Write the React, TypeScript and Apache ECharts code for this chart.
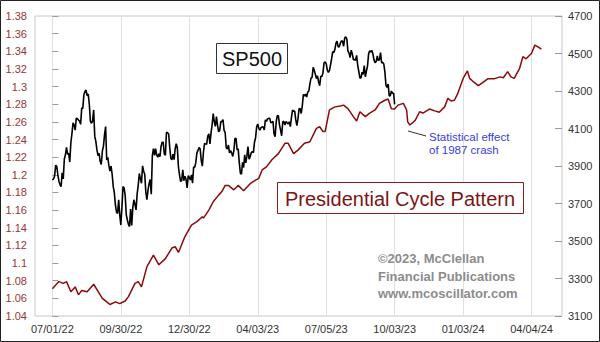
import { useEffect, useRef } from "react";
import * as echarts from "echarts";

// Trading-day index (0 = 07/01/22) of each x-axis label
const tickDays = [0, 63, 126, 189, 252, 315, 378, 441];
const tickLabels = ["07/01/22", "09/30/22", "12/30/22", "04/03/23", "07/05/23", "10/03/23", "01/03/24", "04/04/24"];

// SP500 daily closes, one per trading day starting 07/01/22 (right axis)
const spClose = [
  // Jul 2022
  3825, 3831, 3845, 3903, 3899, 3854, 3819, 3801, 3790, 3863, 3831, 3937, 3960, 3999, 3962, 3967, 3921, 4024, 4073, 4130,
  // Aug 2022
  4119, 4091, 4155, 4152, 4145, 4140, 4122, 4210, 4207, 4280, 4297, 4305, 4274, 4284, 4228, 4138, 4128, 4141, 4199, 4058, 4031, 3986, 3955,
  // Sep 2022
  3967, 3924, 3908, 3980, 4006, 4067, 4110, 3932, 3946, 3901, 3873, 3900, 3856, 3790, 3758, 3693, 3655, 3647, 3720, 3640, 3585,
  // Oct 2022
  3678, 3791, 3783, 3744, 3640, 3612, 3589, 3577, 3670, 3583, 3677, 3720, 3695, 3666, 3752, 3797, 3860, 3831, 3808, 3901, 3872,
  // Nov 2022
  3856, 3760, 3720, 3771, 3807, 3828, 3749, 3956, 3993, 3957, 3992, 3959, 3947, 3965, 3950, 4004, 4027, 4026, 3964, 3958, 4080,
  // Dec 2022
  4077, 4072, 3999, 3941, 3933, 3963, 3934, 3991, 4019, 3996, 3896, 3852, 3818, 3822, 3879, 3822, 3845, 3829, 3783, 3849, 3840,
  // Jan 2023
  3825, 3853, 3808, 3895, 3893, 3919, 3970, 3983, 3999, 3991, 3929, 3899, 3973, 4020, 4017, 4016, 4060, 4071, 4018, 4077,
  // Feb 2023
  4120, 4180, 4136, 4111, 4164, 4118, 4082, 4090, 4137, 4136, 4148, 4090, 4079, 3997, 3991, 4012, 3970, 3982, 3970,
  // Mar 2023
  3951, 3981, 4046, 4048, 3986, 3992, 3918, 3862, 3856, 3920, 3892, 3960, 3917, 3951, 4003, 3937, 3949, 3971, 3977, 3971, 4027, 4051, 4109,
  // Apr 2023
  4124, 4101, 4091, 4105, 4109, 4108, 4092, 4146, 4138, 4151, 4154, 4155, 4130, 4133, 4138, 4072, 4056, 4136, 4169,
  // May 2023
  4168, 4119, 4091, 4061, 4136, 4138, 4119, 4138, 4130, 4124, 4136, 4110, 4158, 4198, 4192, 4193, 4146, 4116, 4151, 4205, 4206, 4180,
  // Jun 2023
  4221, 4282, 4273, 4284, 4268, 4294, 4299, 4338, 4369, 4373, 4426, 4410, 4389, 4366, 4381, 4348, 4328, 4378, 4377, 4396, 4450,
  // Jul 2023
  4455, 4446, 4412, 4399, 4410, 4440, 4473, 4510, 4505, 4522, 4555, 4566, 4535, 4536, 4555, 4567, 4566, 4538, 4582, 4589,
  // Aug 2023
  4577, 4513, 4502, 4478, 4518, 4499, 4467, 4468, 4464, 4490, 4437, 4404, 4370, 4370, 4400, 4388, 4436, 4376, 4406, 4433, 4497, 4515, 4508,
  // Sep 2023
  4516, 4497, 4465, 4451, 4457, 4487, 4462, 4467, 4505, 4450, 4453, 4444, 4402, 4330, 4320, 4337, 4274, 4275, 4300, 4288,
  // Oct 2023
  4288, 4229,
];

// Presidential Cycle Pattern (left axis), sampled at trading-day indices
const presDays = [
  0, 6, 10, 13, 17, 21, 24, 27, 32, 38, 43, 46, 50, 53, 58, 62, 67, 70, 76, 79,
  82, 87, 93, 98, 104, 110, 113, 116, 122, 128, 133, 138, 139, 144, 148, 153, 156, 159, 162, 167,
  171, 176, 182, 187, 190, 193, 197, 202, 208, 214, 217, 222, 226, 232, 237, 243, 246, 249, 251, 255,
  260, 265, 268, 272, 277, 280, 283, 288, 292, 297, 301, 306, 309, 312, 315, 318, 323, 326, 327, 329,
  332, 334, 338, 341, 347, 352, 356, 361, 364, 367, 370, 373, 378, 382, 384, 387, 392, 395, 401, 407,
  412, 415, 419, 422, 425, 430, 433, 436, 441, 444, 447, 450,
];
const presValues = [
  1.071, 1.079, 1.077, 1.079, 1.0675, 1.073, 1.064, 1.069, 1.0675, 1.076, 1.066, 1.06, 1.056, 1.053, 1.056, 1.054, 1.057, 1.062, 1.077, 1.079,
  1.073, 1.096, 1.109, 1.098, 1.105, 1.117, 1.1185, 1.112, 1.13, 1.143, 1.147, 1.1525, 1.151, 1.16, 1.1695, 1.177, 1.181, 1.188, 1.188, 1.183,
  1.188, 1.182, 1.19, 1.194, 1.196, 1.2055, 1.209, 1.217, 1.224, 1.2357, 1.2357, 1.224, 1.228, 1.2357, 1.2375, 1.2527, 1.2545, 1.249, 1.249, 1.2735,
  1.277, 1.278, 1.279, 1.275, 1.266, 1.261, 1.2715, 1.266, 1.27, 1.2735, 1.281, 1.2845, 1.286, 1.275, 1.2745, 1.279, 1.281, 1.2735, 1.26, 1.2565,
  1.2595, 1.262, 1.2715, 1.27, 1.2745, 1.2725, 1.271, 1.277, 1.2867, 1.2837, 1.2845, 1.292, 1.3093, 1.3177, 1.3093, 1.306, 1.301, 1.3037, 1.309, 1.309,
  1.311, 1.31, 1.317, 1.311, 1.3093, 1.3207, 1.334, 1.3315, 1.3377, 1.347, 1.345, 1.3425,
];

const FONT = "Liberation Sans, Arial, sans-serif";

export default function App() {
  const ref = useRef<HTMLDivElement>(null);
  useEffect(() => {
    document.body.style.margin = "0";
    const chart = echarts.init(ref.current!, null, { renderer: "svg" });
    chart.setOption({
      animation: false,
      backgroundColor: "#ffffff",
      grid: {
        left: 35,
        right: 38,
        top: 16,
        bottom: 26,
        show: true,
        borderColor: "#c8c8c8",
        borderWidth: 1,
        backgroundColor: "#ffffff",
      },
      xAxis: {
        type: "value",
        min: -16,
        max: 469,
        axisLine: { show: false },
        axisTick: { show: false, customValues: tickDays },
        axisLabel: {
          customValues: tickDays,
          formatter: (v: number) => {
            const k = tickDays.indexOf(Math.round(v));
            return k >= 0 ? tickLabels[k] : "";
          },
          color: "#333",
          fontSize: 11,
          fontFamily: FONT,
          margin: 7,
        },
        splitLine: { show: true, lineStyle: { color: "#e0e0e0", width: 1 } },
      },
      yAxis: [
        {
          type: "value",
          position: "left",
          min: 1.04,
          max: 1.38,
          interval: 0.02,
          axisLine: { show: false },
          axisTick: { show: true, inside: true, length: 6, lineStyle: { color: "#999" } },
          axisLabel: {
            formatter: (v: number) => String(+v.toFixed(2)),
            color: "#9a3535",
            fontSize: 11,
            fontFamily: FONT,
            margin: 8,
          },
          splitLine: { show: false },
        },
        {
          type: "value",
          position: "right",
          min: 3100,
          max: 4700,
          interval: 200,
          axisLine: { show: false },
          axisTick: { show: true, inside: true, length: 7, lineStyle: { color: "#999" } },
          axisLabel: {
            formatter: (v: number) => String(Math.round(v)),
            color: "#333",
            fontSize: 11,
            fontFamily: FONT,
            margin: 6,
          },
          splitLine: { show: false },
        },
      ],
      series: [
        {
          type: "line",
          name: "Presidential Cycle Pattern",
          yAxisIndex: 0,
          data: presDays.map((d, i) => [d, presValues[i]]),
          showSymbol: false,
          lineStyle: { color: "#8b0a0a", width: 1.5 },
          z: 2,
        },
        {
          type: "line",
          name: "SP500",
          yAxisIndex: 1,
          data: spClose.map((v, i) => [i, v]),
          showSymbol: false,
          lineStyle: { color: "#000000", width: 1.6 },
          z: 3,
        },
      ],
      graphic: [
        {
          type: "rect",
          z: 100,
          shape: { x: 0.5, y: 0.5, width: 599, height: 341 },
          style: { fill: "none", stroke: "#222", lineWidth: 1 },
        },
        {
          type: "rect",
          z: 100,
          shape: { x: 216.5, y: 43.5, width: 71, height: 30 },
          style: { fill: "#fff", stroke: "#333", lineWidth: 1 },
        },
        {
          type: "text",
          z: 101,
          x: 252,
          y: 59,
          style: {
            text: "SP500",
            fill: "#111",
            fontSize: 20,
            fontFamily: FONT,
            textAlign: "center",
            textVerticalAlign: "middle",
          },
        },
        {
          type: "rect",
          z: 100,
          shape: { x: 277.5, y: 182.5, width: 246, height: 31 },
          style: { fill: "#fff", stroke: "#8b1a1a", lineWidth: 1 },
        },
        {
          type: "text",
          z: 101,
          x: 400,
          y: 198.5,
          style: {
            text: "Presidential Cycle Pattern",
            fill: "#7d1414",
            fontSize: 20,
            fontFamily: FONT,
            textAlign: "center",
            textVerticalAlign: "middle",
          },
        },
        {
          type: "line",
          z: 100,
          shape: { x1: 408, y1: 131, x2: 426, y2: 136 },
          style: { stroke: "#333", lineWidth: 1 },
        },
        {
          type: "text",
          z: 101,
          x: 429,
          y: 130,
          style: {
            text: "Statistical effect\nof 1987 crash",
            fill: "#3c3cdc",
            fontSize: 11.5,
            lineHeight: 13,
            fontFamily: FONT,
            textAlign: "left",
            textVerticalAlign: "top",
          },
        },
        {
          type: "text",
          z: 101,
          x: 378,
          y: 250,
          style: {
            text: "©2023, McClellan\nFinancial Publications\nwww.mcoscillator.com",
            fill: "#8c8c8c",
            fontSize: 13,
            fontWeight: "bold",
            lineHeight: 17.5,
            fontFamily: FONT,
            textAlign: "left",
            textVerticalAlign: "top",
          },
        },
      ],
    });
    return () => chart.dispose();
  }, []);
  return <div ref={ref} style={{ width: 600, height: 342 }} />;
}
